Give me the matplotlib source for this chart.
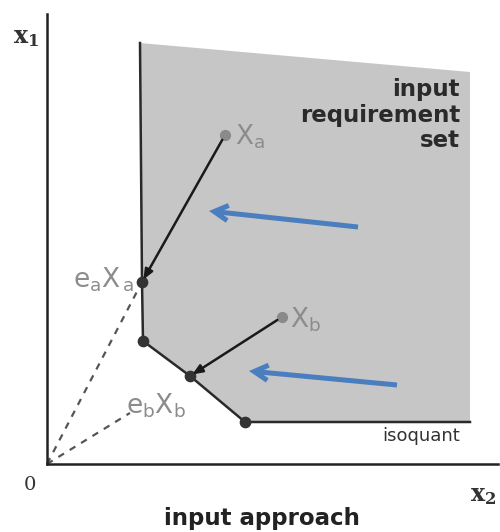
import matplotlib
matplotlib.use("Agg")
import matplotlib.pyplot as plt
from matplotlib.patches import Polygon, FancyArrowPatch

# ---- data (diagram coordinates: x2 horizontal, x1 vertical) ----
axis_x_end = 45.1
axis_y_end = 45.0
# isoquant vertices (top to bottom-right)
iso_x = [9.3, 9.5, 9.6, 14.3, 19.8, 42.3]
iso_y = [42.1, 18.2, 12.3, 8.8, 4.2, 4.2]
# upper boundary of shaded set
set_top_x = [9.3, 42.3, 42.3]
set_top_y = [42.1, 39.2, 4.2]
# kinks shown as dots
dot_x = [9.5, 9.6, 14.3, 19.8]
dot_y = [18.2, 12.3, 8.8, 4.2]
# observed inputs
Xa = (17.8, 32.9)
Xb = (23.5, 14.7)
eXa = (9.5, 18.2)
eXb = (14.3, 8.8)
# blue arrows (start, end)
blue_starts = [(31.1, 23.7), (35.0, 7.9)]
blue_ends = [(16.2, 25.3), (20.2, 9.3)]

fig = plt.figure(figsize=(5.0, 5.32), dpi=100)
ax = fig.add_axes([0, 0, 1, 1])
ax.set_xlim(-4.7, 45.3)
ax.set_ylim(-6.8, 46.4)
ax.axis("off")

shade = "#c6c6c6"
poly_x = set_top_x + iso_x[::-1]
poly_y = set_top_y + iso_y[::-1]
ax.add_patch(Polygon(list(zip(poly_x, poly_y)), closed=True,
                     facecolor=shade, edgecolor="none", zorder=1))

# axes lines
ax.plot([0, 0], [0, axis_y_end], color="#222222", lw=1.8, zorder=3)
ax.plot([0, axis_x_end], [0, 0], color="#222222", lw=1.8, zorder=3)

# isoquant
ax.plot(iso_x, iso_y, color="#2a2a2a", lw=1.8, zorder=3)
ax.scatter(dot_x, dot_y, s=55, color="#333333", zorder=4)

# dashed rays
ax.plot([0, eXa[0]], [0, eXa[1]], color="#555555", lw=1.6,
        ls=(0, (3, 3)), zorder=2)
f = 0.58
ax.plot([0, eXb[0] * f], [0, eXb[1] * f], color="#555555", lw=1.6,
        ls=(0, (3, 3)), zorder=2)

# observed points
ax.scatter([Xa[0], Xb[0]], [Xa[1], Xb[1]], s=50, color="#8a8a8a", zorder=4)

# black arrows
for s, e in [(Xa, eXa), (Xb, eXb)]:
    ax.add_patch(FancyArrowPatch(s, e, arrowstyle="-|>,head_length=6,head_width=2.5",
                                 color="#1a1a1a", lw=1.8, shrinkA=4, shrinkB=2,
                                 zorder=5))

# blue arrows
for s, e in zip(blue_starts, blue_ends):
    ax.add_patch(FancyArrowPatch(s, e, arrowstyle="->,head_length=10,head_width=5.5",
                                 color="#4a7ebf", lw=3.6, shrinkA=0, shrinkB=0,
                                 joinstyle="miter", capstyle="butt", zorder=6))

gray = "#8c8c8c"
# labels
ax.text(Xa[0] + 1.0, Xa[1] - 0.2, r"$\mathregular{X_a}$", fontsize=19,
        color=gray, va="center", ha="left", zorder=7)
ax.text(Xb[0] + 0.8, Xb[1] - 0.3, r"$\mathregular{X_b}$", fontsize=19,
        color=gray, va="center", ha="left", zorder=7)
ax.text(eXa[0] - 0.7, eXa[1] + 0.2, r"$\mathregular{e_aX_{\,a}}$", fontsize=19,
        color=gray, va="center", ha="right", zorder=7)
ax.text(eXb[0] - 0.4, eXb[1] - 3.0, r"$\mathregular{e_bX_b}$", fontsize=19,
        color=gray, va="center", ha="right", zorder=7)

ax.text(41.3, 38.6, "input\nrequirement\nset", fontsize=16.5, fontweight="bold",
        color="#2a2a2a", ha="right", va="top", linespacing=1.15, zorder=7)
ax.text(41.3, 2.8, "isoquant", fontsize=13, color="#333333",
        ha="right", va="center", zorder=7)

ax.text(-1.7, -2.1, "0", fontsize=14, color="#333333", family="DejaVu Serif",
        ha="center", va="center")
ax.text(-2.1, 42.7, r"$\mathbf{x_1}$", fontsize=17, color="#333333",
        ha="center", va="center", math_fontfamily="dejavuserif")
ax.text(43.6, -3.1, r"$\mathbf{x_2}$", fontsize=17, color="#333333",
        ha="center", va="center", math_fontfamily="dejavuserif")
ax.text(21.5, -5.4, "input approach", fontsize=16.5, fontweight="bold",
        color="#222222", ha="center", va="center")

fig.savefig("out.png", dpi=100)
